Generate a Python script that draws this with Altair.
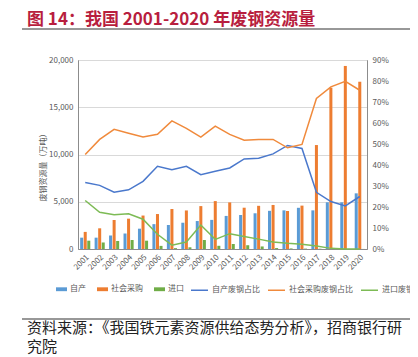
import altair as alt
import pandas as pd

FONT = "Noto Sans CJK SC"

years = [str(y) for y in range(2001, 2021)]

# 万吨
self_prod = [1200, 1200, 1420, 1640, 2150, 2630, 2540, 2780, 2960, 3080,
             3500, 3600, 3780, 4040, 4090, 4360, 4090, 4940, 4940, 5890]
social_buy = [1810, 2190, 3070, 3210, 3540, 3700, 4230, 4080, 4540, 5070,
              4930, 4370, 4570, 4660, 4020, 4590, 11000, 17070, 19370, 17700]
imports = [880, 690, 850, 950, 880, 330, 90, 180, 950, 340,
           530, 400, 270, 100, 60, 40, 30, 10, 5, 5]

# %
self_share = [31.7, 30.3, 27.0, 28.2, 32.2, 39.4, 37.8, 39.4, 35.4, 37.0,
              38.6, 42.9, 43.2, 45.3, 49.3, 47.9, 27.0, 22.6, 20.5, 25.0]
social_share = [45.0, 52.2, 57.0, 55.1, 53.3, 54.6, 61.0, 57.4, 53.3, 58.5,
                54.6, 51.8, 52.2, 52.2, 48.2, 49.8, 71.7, 77.2, 79.8, 75.6]
import_share = [23.1, 17.5, 16.3, 16.8, 14.2, 7.0, 1.8, 3.3, 11.4, 4.6,
                7.3, 6.0, 4.7, 3.3, 2.7, 2.3, 1.4, 0.3, 0.0, 0.0]

bar_series = ["自产", "社会采购", "进口"]
line_series = ["自产废钢占比", "社会采购废钢占比", "进口废钢占比"]
bar_colors = ["#5B9BD5", "#ED7D31", "#70AD47"]
line_colors = ["#4A78CC", "#F08A3C", "#7DBB55"]

title_text = "图 14：我国 2001-2020 年废钢资源量"
source_lines = ["资料来源：《我国铁元素资源供给态势分析》，招商银行研", "究院"]
y_title = "废钢资源量（万吨）"

bars_df = pd.DataFrame({
    "year": years * 3,
    "series": [s for s in bar_series for _ in years],
    "value": self_prod + social_buy + imports,
})
lines_df = pd.DataFrame({
    "year": years * 3,
    "series": [s for s in line_series for _ in years],
    "share": [v / 100 for v in self_share + social_share + import_share],
})

GRAY = "#595959"
AXC = "#8C8C8C"

x_enc = alt.X(
    "year:N", sort=years,
    scale=alt.Scale(paddingInner=0.3, paddingOuter=0.15),
    axis=alt.Axis(title=None, labelAngle=315, labelFont=FONT, labelFontSize=8,
                  labelColor=GRAY, ticks=False, domainColor=AXC,
                  labelPadding=4, labelOverlap=False),
)

bars = alt.Chart(bars_df).mark_bar().encode(
    x=x_enc,
    xOffset=alt.XOffset("series:N", sort=bar_series,
                        scale=alt.Scale(domain=bar_series, paddingInner=0.15)),
    y=alt.Y("value:Q", scale=alt.Scale(domain=[0, 20000]),
            axis=alt.Axis(values=[0, 5000, 10000, 15000, 20000], title=y_title,
                          titleFont=FONT, titleFontSize=8, titleFontWeight="normal",
                          titleColor=GRAY, titleX=-35, titleY=105, titleAngle=270,
                          titleAlign="center", titleBaseline="middle",
                          labelFont=FONT, labelFontSize=8, labelColor=GRAY,
                          ticks=False, labelPadding=5, domainColor=AXC,
                          grid=True, gridColor="#D9D9D9", gridWidth=1)),
    fill=alt.Fill("series:N", scale=alt.Scale(domain=bar_series, range=bar_colors),
                  legend=alt.Legend(orient="none", legendX=-22, legendY=223.5,
                                    direction="horizontal", title=None,
                                    symbolType="M-1,-0.35H1V0.35H-1Z", symbolSize=121,
                                    symbolStrokeWidth=0, symbolOpacity=1,
                                    labelFont=FONT, labelFontSize=8, labelColor=GRAY,
                                    labelOffset=3, columnPadding=11, padding=0)),
)

lines = alt.Chart(lines_df).mark_line(strokeWidth=1.5).encode(
    x=alt.X("year:N", sort=years),
    y=alt.Y("share:Q", scale=alt.Scale(domain=[0, 0.9]),
            axis=alt.Axis(orient="right", format=".0%",
                          values=[0, 0.1, 0.2, 0.3, 0.4, 0.5, 0.6, 0.7, 0.8, 0.9],
                          title=None, grid=False, ticks=False, labelPadding=5,
                          labelFont=FONT, labelFontSize=8, labelColor=GRAY,
                          domainColor=AXC)),
    stroke=alt.Stroke("series:N", scale=alt.Scale(domain=line_series, range=line_colors),
                      legend=alt.Legend(orient="none", legendX=112, legendY=220.5,
                                        direction="horizontal", title=None,
                                        symbolType="stroke", symbolSize=289,
                                        symbolStrokeWidth=1.5,
                                        labelFont=FONT, labelFontSize=8, labelColor=GRAY,
                                        labelOffset=3, columnPadding=5, padding=0)),
)

one = pd.DataFrame({"k": [0]})

title_mark = alt.Chart(pd.DataFrame({"t": [title_text]})).mark_text(
    align="left", baseline="middle", fontSize=17, fontWeight="bold",
    color="#B81E3E", font=FONT,
).encode(text="t:N", x=alt.value(-51), y=alt.value(-40))

title_rule = alt.Chart(one).mark_rule(color="#333333", strokeWidth=1.2).encode(
    x=alt.value(-56), x2=alt.value(335), y=alt.value(-31))

source_rule = alt.Chart(one).mark_rule(color="#333333", strokeWidth=1.2).encode(
    x=alt.value(-56), x2=alt.value(335), y=alt.value(259))

source_mark = alt.Chart(pd.DataFrame({"t": ["\n".join(source_lines)]})).mark_text(
    align="left", baseline="top", fontSize=15, color="#222222", font=FONT,
    lineBreak="\n", lineHeight=19,
).encode(text="t:N", x=alt.value(-51), y=alt.value(261))

chart = alt.layer(
    bars, lines, title_mark, title_rule, source_rule, source_mark
).resolve_scale(y="independent").properties(
    width=289, height=189,
    padding={"left": 70, "top": 52, "right": 43, "bottom": 108},
    autosize=alt.AutoSizeParams(type="none"),
).configure_view(stroke=AXC, strokeWidth=1)

chart.save("out.html", embed_options={"renderer": "svg", "actions": False})
